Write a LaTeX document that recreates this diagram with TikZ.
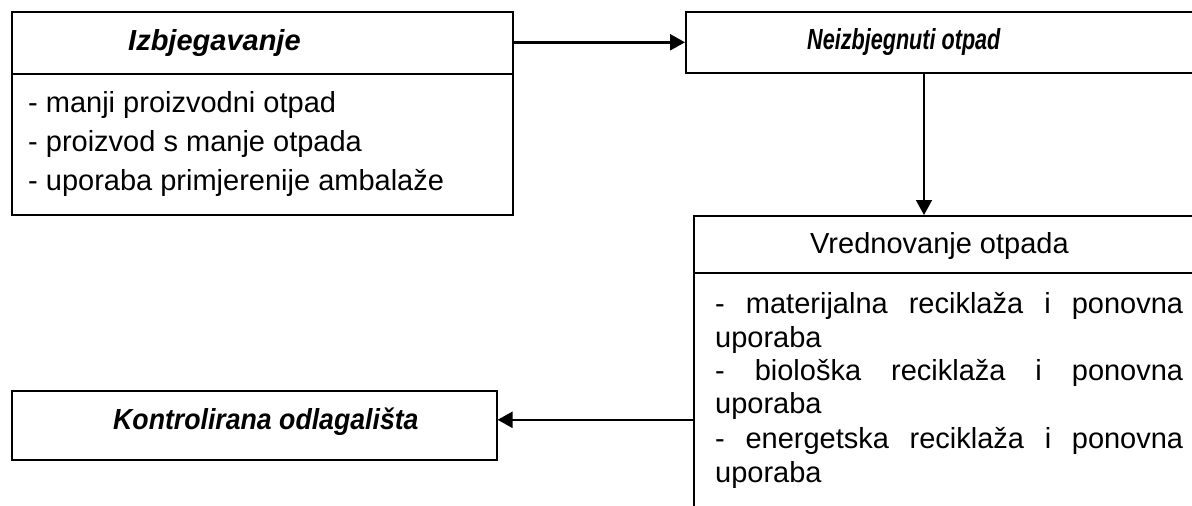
\documentclass[tikz,border=0pt]{standalone}
\usepackage{fontspec}
\setmainfont{Liberation Sans}
\usetikzlibrary{arrows.meta}
\begin{document}
\begin{tikzpicture}[x=1pt,y=-1pt,
  box/.style={draw, line width=1.6pt, rectangle, inner sep=0pt, anchor=north west},
  divider/.style={line width=1.6pt},
  txt/.style={inner sep=0pt, anchor=base west, font=\fontsize{29}{33}\selectfont},
  ttl/.style={inner sep=0pt, anchor=base west, font=\fontsize{29}{33}\selectfont\bfseries\itshape},
  arr/.style={line width=2.4pt, -{Triangle[length=15pt,width=16pt]}},
  arrthin/.style={line width=1.8pt, -{Triangle[length=15pt,width=16pt]}}]
\useasboundingbox (0,0) rectangle (1192,506);
\clip (0,0) rectangle (1192,506);
% boxes
\node[box, minimum width=501pt, minimum height=203pt] (b1) at (11,11) {};
\node[box, minimum width=535pt, minimum height=61pt] (b2) at (685,11) {};
\node[box, minimum width=527pt, minimum height=320pt] (b3) at (693,215) {};
\node[box, minimum width=485pt, minimum height=69pt] (b4) at (11,390) {};
% dividers
\draw[divider] (11,74) -- (512,74);
\draw[divider] (693,273) -- (1220,273);
% box 1 texts
\node[ttl] (t1) at (128,50) {Izbjegavanje};
\node[txt] (l11) at (28,112) {- manji proizvodni otpad};
\node[txt] (l12) at (28,151) {- proizvod s manje otpada};
\node[txt] (l13) at (28,190) {- uporaba primjerenije ambalaže};
% box 2 text
\node[ttl] (t2) at (807,49) {\scalebox{0.745}[1]{Neizbjegnuti otpad}};
% box 3 texts
\node[txt] (t3) at (810,253) {Vrednovanje otpada};
\node[txt] (l31) at (715,313) {\hbox to 468pt{-\hfill materijalna\hfill reciklaža\hfill i\hfill ponovna}};
\node[txt] (l32) at (715,347) {uporaba};
\node[txt] (l33) at (715,380) {\hbox to 468pt{-\hfill biološka\hfill reciklaža\hfill i\hfill ponovna}};
\node[txt] (l34) at (715,413) {uporaba};
\node[txt] (l35) at (715,448) {\hbox to 468pt{-\hfill energetska\hfill reciklaža\hfill i\hfill ponovna}};
\node[txt] (l36) at (715,482) {uporaba};
% box 4 text
\node[ttl] (t4) at (113,429) {\scalebox{0.92}[1]{Kontrolirana odlagališta}};
% connectors
\draw[arr] (b2.west -| b1.east) -- (b2.west);
\coordinate (d1) at ([xshift=239pt]b2.south west);
\coordinate (d2) at ([xshift=231pt]b3.north west);
\draw[arrthin] (d1) -- (d2);
\coordinate (c4) at ([yshift=5.5pt]b4.east);
\draw[arr] (c4 -| b3.west) -- (c4);
\end{tikzpicture}
\end{document}
